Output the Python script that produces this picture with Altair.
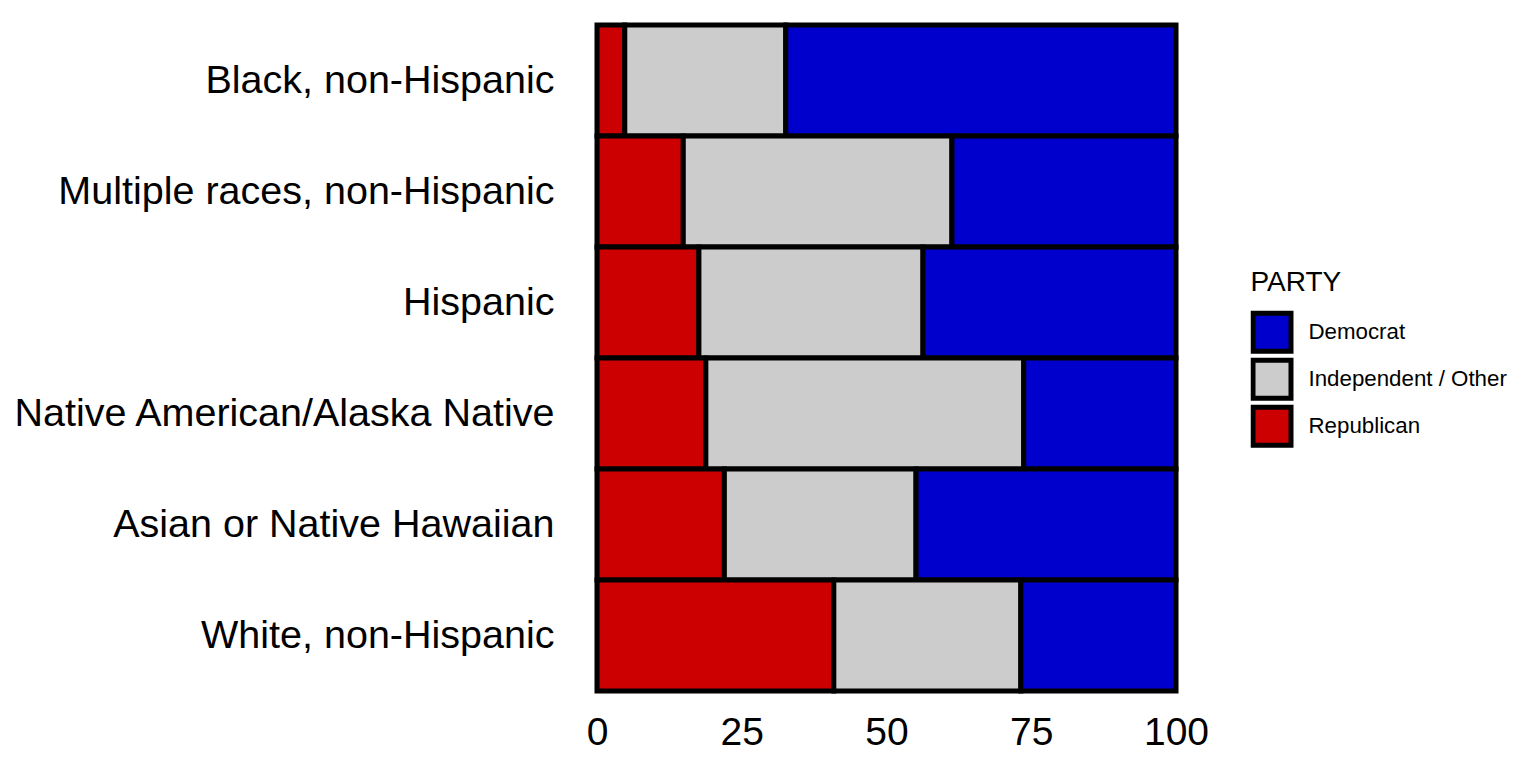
import altair as alt
import pandas as pd

groups = ["Black, non-Hispanic", "Multiple races, non-Hispanic", "Hispanic",
          "Native American/Alaska Native", "Asian or Native Hawaiian", "White, non-Hispanic"]
republican = [4.8, 14.9, 17.6, 18.8, 22.0, 40.9]
independent = [27.8, 46.4, 38.7, 54.9, 33.1, 32.3]
democrat = [67.4, 38.7, 43.7, 26.3, 44.9, 26.8]

parties = ["Democrat", "Independent / Other", "Republican"]
colors = ["#0000CC", "#CCCCCC", "#CC0000"]
stack_rank = {"Republican": 0, "Independent / Other": 1, "Democrat": 2}

rows = []
for i, g in enumerate(groups):
    for p, v in (("Republican", republican[i]), ("Independent / Other", independent[i]), ("Democrat", democrat[i])):
        rows.append({"group": g, "party": p, "value": v, "rank": stack_rank[p]})
df = pd.DataFrame(rows)

FONT = "Liberation Sans"

chart = alt.Chart(df).mark_bar(stroke="black", strokeWidth=5, strokeJoin="miter").encode(
    y=alt.Y("group:N", sort=groups, title=None,
            scale=alt.Scale(paddingInner=0, paddingOuter=0),
            axis=alt.Axis(domain=False, ticks=False, tickSize=0, labelPadding=43,
                          labelFontSize=39.5, labelFont=FONT, labelColor="black",
                          labelLimit=1000)),
    x=alt.X("value:Q", stack="zero", title=None,
            scale=alt.Scale(domain=[0, 100], nice=False),
            axis=alt.Axis(values=[0, 25, 50, 75, 100], domain=False, ticks=False, tickSize=0,
                          grid=False, labelPadding=22, labelFontSize=39, labelFont=FONT,
                          labelColor="black", labelFlush=False, labelOverlap=False)),
    fill=alt.Fill("party:N", scale=alt.Scale(domain=parties, range=colors),
                  legend=alt.Legend(title="PARTY", orient="none", legendX=653.5, legendY=244,
                                    titleFontSize=28, titleFont=FONT, titleFontWeight="normal",
                                    titleColor="black", titlePadding=12,
                                    labelFontSize=22.3, labelFont=FONT, labelColor="black",
                                    labelOffset=15, symbolType="square", symbolSize=1444,
                                    symbolStrokeColor="black", symbolStrokeWidth=5,
                                    symbolOpacity=1, rowPadding=0, clipHeight=46.6,
                                    labelLimit=400)),
    order=alt.Order("rank:Q"),
).properties(
    width=579, height=666,
    autosize=alt.AutoSizeParams(type="none"),
    padding={"left": 589, "top": 17, "right": 342, "bottom": 68},
).configure_view(stroke=None)

chart.save("out.html", embed_options={"renderer": "svg", "actions": False})
